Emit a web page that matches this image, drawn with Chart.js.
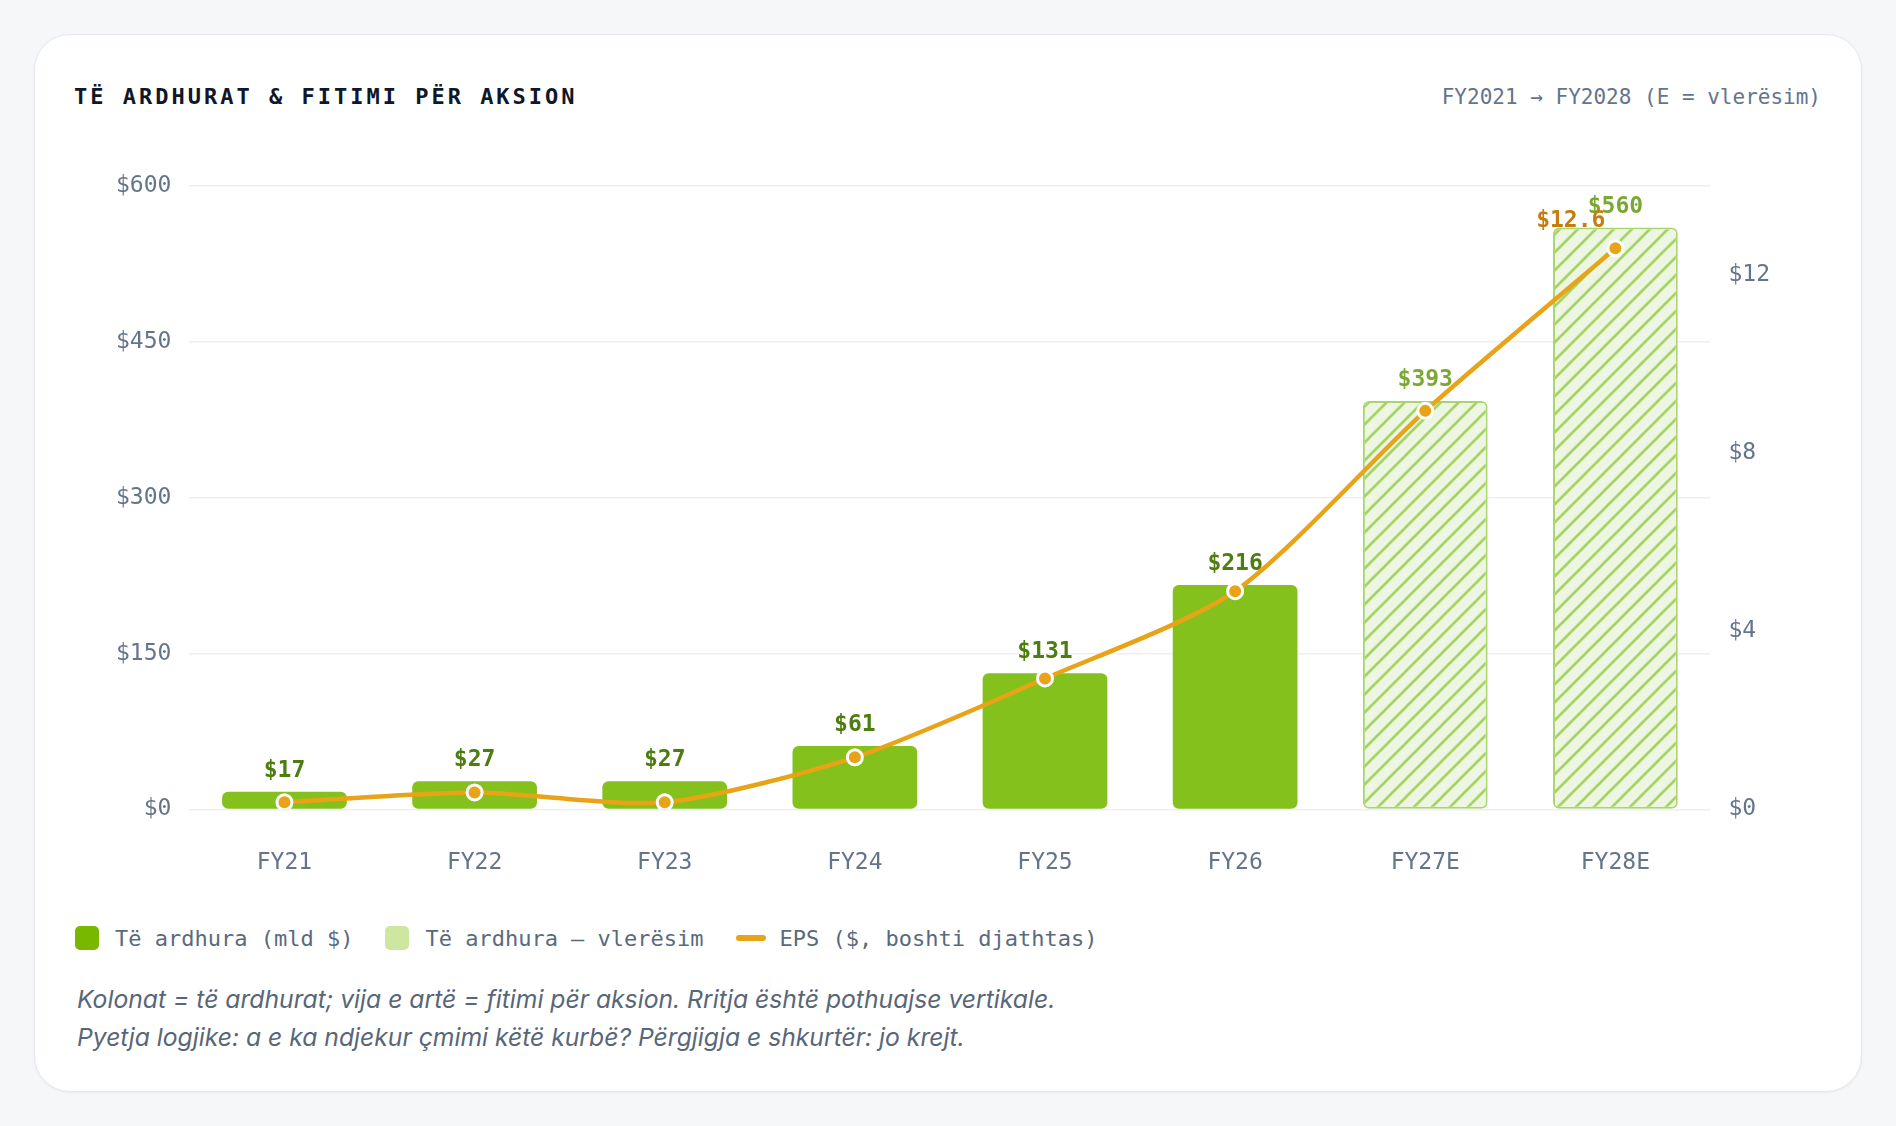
<!DOCTYPE html>
<html lang="sq">
<head>
  <meta charset="UTF-8" />
  <title>Të ardhurat &amp; fitimi për aksion</title>
  <script src="https://cdn.jsdelivr.net/npm/chart.js"></script>
  <style>
    html, body { margin: 0; padding: 0; background: #f6f7f9; }
    body { width: 1896px; height: 1126px; position: relative; overflow: hidden; font-family: 'DejaVu Sans Mono', monospace; }
    .card {
      position: absolute; left: 34px; top: 34px; width: 1828px; height: 1058px;
      box-sizing: border-box; background: #fff; border: 1.5px solid #e4e8ed;
      border-radius: 36px; box-shadow: 0 1px 3px rgba(15, 23, 42, 0.05);
    }
    .title {
      position: absolute; left: 39px; top: 49px; line-height: 26px;
      font-size: 22px; font-weight: bold; letter-spacing: 3px; color: #0f172a;
    }
    .subtitle {
      position: absolute; right: 40px; top: 49px; line-height: 26px;
      font-size: 21px; color: #64748b;
    }
    .chart-wrap { position: absolute; left: 39px; top: 96px; width: 1748px; height: 792px; }
    .legend {
      position: absolute; left: 40px; top: 890px; height: 26px;
      display: flex; align-items: center; font-size: 22px; color: #5a6a7e;
    }
    .legend .item { display: flex; align-items: center; margin-right: 32px; }
    .legend .sw { width: 24px; height: 24px; border-radius: 5px; margin-right: 16px; }
    .legend .sw.actual { background: #78b900; }
    .legend .sw.est { background: #cde6a0; }
    .legend .ln { width: 30px; height: 6px; border-radius: 3px; background: #e8a317; margin-right: 14px; }
    .caption {
      position: absolute; left: 42px; top: 945px;
      font-family: Inter, 'Noto Sans', sans-serif; font-style: italic;
      font-size: 24.7px; line-height: 38px; color: #586679;
    }
  </style>
</head>
<body>
  <div class="card">
    <div class="title">TË ARDHURAT &amp; FITIMI PËR AKSION</div>
    <div class="subtitle">FY2021 → FY2028 (E = vlerësim)</div>
    <div class="chart-wrap"><canvas id="chart"></canvas></div>
    <div class="legend">
      <span class="item"><i class="sw actual"></i>Të ardhura (mld $)</span>
      <span class="item"><i class="sw est"></i>Të ardhura — vlerësim</span>
      <span class="item"><i class="ln"></i>EPS ($, boshti djathtas)</span>
    </div>
    <div class="caption">
      Kolonat = të ardhurat; vija e artë = fitimi për aksion. Rritja është pothuajse vertikale.<br>
      Pyetja logjike: a e ka ndjekur çmimi këtë kurbë? Përgjigja e shkurtër: jo krejt.
    </div>
  </div>

  <script>
    const categories = ['FY21', 'FY22', 'FY23', 'FY24', 'FY25', 'FY26', 'FY27E', 'FY28E'];
    const revenue = [17, 27, 27, 61, 131, 216, 393, 560];
    const eps = [0.16, 0.38, 0.16, 1.17, 2.94, 4.90, 8.95, 12.6];
    const estimated = [false, false, false, false, false, false, true, true];
    const revenueTicks = [0, 150, 300, 450, 600];
    const epsTicks = [0, 4, 8, 12];

    // diagonal hatch for the estimate bars
    function hatchPattern() {
      const s = 18;
      const c = document.createElement('canvas');
      c.width = s; c.height = s;
      const g = c.getContext('2d');
      g.fillStyle = '#edf6e2';
      g.fillRect(0, 0, s, s);
      g.strokeStyle = '#a5d460';
      g.lineWidth = 2.7;
      g.beginPath();
      g.moveTo(-3, s + 3); g.lineTo(s + 3, -3);
      g.moveTo(-3, 3); g.lineTo(3, -3);
      g.moveTo(s - 3, s + 3); g.lineTo(s + 3, s - 3);
      g.stroke();
      return g.createPattern(c, 'repeat');
    }
    const hatch = hatchPattern();

    const valueLabels = {
      id: 'valueLabels',
      afterDatasetDraw(chart, args) {
        const ctx = chart.ctx;
        const meta = args.meta;
        ctx.save();
        ctx.font = 'bold 23px "DejaVu Sans Mono"';
        ctx.textBaseline = 'middle';
        if (meta.type === 'bar') {
          ctx.textAlign = 'center';
          meta.data.forEach((bar, i) => {
            ctx.fillStyle = estimated[i] ? '#7ba832' : '#4d7c0f';
            ctx.fillText('$' + revenue[i], bar.x, bar.y - 21);
          });
        } else if (meta.type === 'line') {
          const last = eps.length - 1;
          const pt = meta.data[last];
          ctx.textAlign = 'right';
          ctx.fillStyle = '#c47d0e';
          ctx.fillText('$' + eps[last], pt.x - 10, pt.y - 27);
        }
        ctx.restore();
      }
    };

    Chart.defaults.font.family = "'DejaVu Sans Mono', monospace";
    Chart.defaults.font.size = 23;
    Chart.defaults.color = '#64748b';

    // note: chart.js reserves tick padding on both sides of the labels
    new Chart(document.getElementById('chart'), {
      type: 'bar',
      data: {
        labels: categories,
        datasets: [
          {
            type: 'line',
            label: 'EPS',
            data: eps,
            yAxisID: 'y1',
            borderColor: '#e8a317',
            borderWidth: 4.5,
            tension: 0.25,
            pointRadius: 7.5,
            pointBackgroundColor: '#e8a317',
            pointBorderColor: '#ffffff',
            pointBorderWidth: 3
          },
          {
            label: 'Të ardhura',
            data: revenue,
            yAxisID: 'y',
            backgroundColor: estimated.map(e => e ? hatch : '#84c11c'),
            borderColor: estimated.map(e => e ? '#a9d66c' : '#84c11c'),
            borderWidth: estimated.map(e => e ? 2 : 0),
            borderRadius: 6,
            borderSkipped: false,
            barPercentage: 0.656,
            categoryPercentage: 1
          }
        ]
      },
      options: {
        responsive: true,
        maintainAspectRatio: false,
        animation: false,
        layout: { padding: { left: 24, right: 34, top: 55, bottom: 6 } },
        plugins: { legend: { display: false }, tooltip: { enabled: false } },
        scales: {
          x: {
            grid: { display: false, drawTicks: false },
            border: { display: false },
            ticks: { padding: 40, color: '#64748b' }
          },
          y: {
            position: 'left',
            min: 0, max: 600,
            afterBuildTicks: s => { s.ticks = revenueTicks.map(v => ({ value: v })); },
            grid: { color: '#edf0f3', lineWidth: 1.5, drawTicks: false },
            border: { display: false },
            ticks: { padding: 18, callback: v => '$' + v }
          },
          y1: {
            position: 'right',
            min: 0, max: 14,
            afterBuildTicks: s => { s.ticks = epsTicks.map(v => ({ value: v })); },
            grid: { display: false, drawTicks: false },
            border: { display: false },
            ticks: { padding: 18, callback: v => '$' + v }
          }
        }
      },
      plugins: [valueLabels]
    });
  </script>
</body>
</html>
